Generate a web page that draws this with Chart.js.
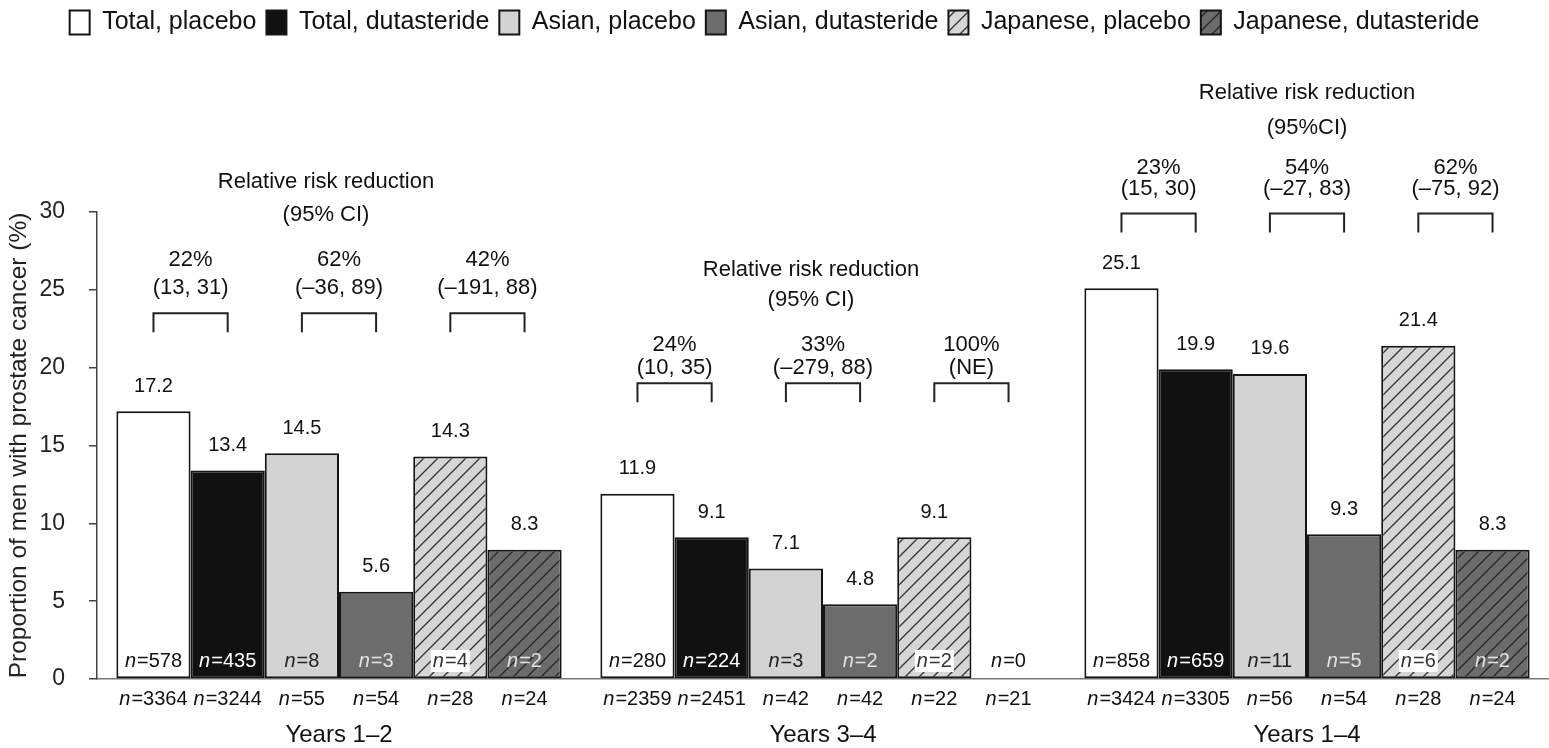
<!DOCTYPE html>
<html>
<head>
<meta charset="utf-8">
<script src="https://cdn.jsdelivr.net/npm/chart.js@4.4.1/dist/chart.umd.min.js"></script>
<style>
  html, body { margin: 0; padding: 0; background: #fff; }
</style>
</head>
<body>
<canvas id="bar-chart" width="1549" height="748"></canvas>
<script>
// ---- data ----
var periods = ['Years 1\u20132', 'Years 3\u20134', 'Years 1\u20134'];
var seriesNames = ['Total, placebo', 'Total, dutasteride', 'Asian, placebo',
                   'Asian, dutasteride', 'Japanese, placebo', 'Japanese, dutasteride'];

var totalPlacebo        = [17.2, 11.9, 25.1];
var totalDutasteride    = [13.4,  9.1, 19.9];
var asianPlacebo        = [14.5,  7.1, 19.6];
var asianDutasteride    = [ 5.6,  4.8,  9.3];
var japanesePlacebo     = [14.3,  9.1, 21.4];
var japaneseDutasteride = [ 8.3,  0,    8.3];

// men with cancer (inside the bars), one list per series
var casesN = [
    [578, 280, 858],
    [435, 224, 659],
    [8, 3, 11],
    [3, 2, 5],
    [4, 2, 6],
    [2, 0, 2]
];
// men at risk (under the axis)
var menN = [
    [3364, 2359, 3424],
    [3244, 2451, 3305],
    [55, 42, 56],
    [54, 42, 54],
    [28, 22, 28],
    [24, 21, 24]
];

var rrrTitle = ['Relative risk reduction', 'Relative risk reduction', 'Relative risk reduction'];
var rrrSub   = ['(95% CI)', '(95% CI)', '(95%CI)'];
var rrrValue = [['22%', '62%', '42%'], ['24%', '33%', '100%'], ['23%', '54%', '62%']];
var rrrCI    = [['(13, 31)', '(\u201336, 89)', '(\u2013191, 88)'],
                ['(10, 35)', '(\u2013279, 88)', '(NE)'],
                ['(15, 30)', '(\u201327, 83)', '(\u201375, 92)']];

var yTicks = [0, 5, 10, 15, 20, 25, 30];

// ---- layout of the annotations (not data) ----
var bracketLevel = [23.5, 19.0, 29.9];          // on the y scale
var textOffsets = [                               // px above the bracket: title, sub, value, ci
    [131, 98, 53, 25],
    [113, 83, 38, 15],
    [121, 86, 46, 25]
];
var headerShift = [-13, -12, 0];

var FONT = "'Liberation Sans', Arial, sans-serif";
var INK = '#111';

function hatch(bg, line) {
    var c = document.createElement('canvas');
    c.width = 14; c.height = 14;
    var g = c.getContext('2d');
    g.fillStyle = bg;
    g.fillRect(0, 0, 14, 14);
    g.strokeStyle = line;
    g.lineWidth = 1.3;
    g.beginPath();
    g.moveTo(0, 14); g.lineTo(14, 0);
    g.moveTo(-7, 7); g.lineTo(7, -7);
    g.moveTo(7, 21); g.lineTo(21, 7);
    g.stroke();
    return g.createPattern(c, 'repeat');
}

var fills = ['#ffffff', '#111111', '#d3d3d3', '#6c6c6c',
             hatch('#d6d6d6', '#333333'), hatch('#6c6c6c', '#262626')];
var innerInk = ['#111', '#fff', '#222', '#e2e2e2', '#333', '#e2e2e2'];
var innerBg  = [null, null, null, null, '#ffffff', null];

function drawN(ctx, value, x, y, color, bg) {
    var italic = 'italic 20px ' + FONT, plain = '20px ' + FONT;
    ctx.font = italic;
    var w1 = ctx.measureText('n').width;
    ctx.font = plain;
    var rest = '=' + value;
    var w2 = ctx.measureText(rest).width;
    var total = w1 + w2 + 1;
    var left = x - total / 2;
    if (bg) {
        ctx.fillStyle = bg;
        ctx.fillRect(left - 2, y - 11, total + 4, 22);
    }
    ctx.fillStyle = color;
    ctx.textAlign = 'left';
    ctx.textBaseline = 'middle';
    ctx.font = italic;
    ctx.fillText('n', left, y);
    ctx.font = plain;
    ctx.fillText(rest, left + w1 + 1, y);
}

// legend sits at the top, the plot starts lower down
var legendSpace = {
    id: 'legendSpace',
    beforeInit: function(chart) {
        var fit = chart.legend.fit;
        chart.legend.fit = function() {
            fit.bind(chart.legend)();
            this.height = 212;
        };
    }
};

var annotations = {
    id: 'annotations',
    afterDatasetsDraw: function(chart) {
        var ctx = chart.ctx;
        var area = chart.chartArea;
        var yScale = chart.scales.y;
        var xScale = chart.scales.x;
        ctx.save();

        chart.data.datasets.forEach(function(ds, i) {
            var meta = chart.getDatasetMeta(i);
            meta.data.forEach(function(bar, j) {
                var v = ds.data[j];
                if (v > 0) {
                    ctx.font = '20px ' + FONT;
                    ctx.fillStyle = INK;
                    ctx.textAlign = 'center';
                    ctx.textBaseline = 'middle';
                    ctx.fillText(v.toFixed(1), bar.x, bar.y - 25);
                    drawN(ctx, casesN[i][j], bar.x, area.bottom - 18, innerInk[i], innerBg[i]);
                } else {
                    drawN(ctx, casesN[i][j], bar.x, area.bottom - 18, INK, null);
                }
                drawN(ctx, menN[i][j], bar.x, area.bottom + 20, INK, null);
            });
        });

        // relative risk reduction brackets and texts
        ctx.strokeStyle = '#222';
        ctx.lineWidth = 2;
        periods.forEach(function(p, j) {
            var top = yScale.getPixelForValue(bracketLevel[j]);
            var off = textOffsets[j];
            var cx = xScale.getPixelForValue(j) + headerShift[j];
            ctx.font = '22px ' + FONT;
            ctx.fillStyle = INK;
            ctx.textAlign = 'center';
            ctx.textBaseline = 'middle';
            ctx.fillText(rrrTitle[j], cx, top - off[0]);
            ctx.fillText(rrrSub[j], cx, top - off[1]);
            for (var k = 0; k < 3; k++) {
                var x1 = chart.getDatasetMeta(2 * k).data[j].x;
                var x2 = chart.getDatasetMeta(2 * k + 1).data[j].x;
                ctx.beginPath();
                ctx.moveTo(x1, top + 19);
                ctx.lineTo(x1, top);
                ctx.lineTo(x2, top);
                ctx.lineTo(x2, top + 19);
                ctx.stroke();
                ctx.fillText(rrrValue[j][k], (x1 + x2) / 2, top - off[2]);
                ctx.fillText(rrrCI[j][k], (x1 + x2) / 2, top - off[3]);
            }
        });
        ctx.restore();
    }
};

document.addEventListener('DOMContentLoaded', function() {
    Chart.defaults.font.family = FONT;
    Chart.defaults.color = INK;

    var values = [totalPlacebo, totalDutasteride, asianPlacebo,
                  asianDutasteride, japanesePlacebo, japaneseDutasteride];

    var ctx = document.getElementById('bar-chart').getContext('2d');
    var myChart = new Chart(ctx, {
        type: 'bar',
        data: {
            labels: periods,
            datasets: values.map(function(v, i) {
                return {
                    label: seriesNames[i],
                    data: v,
                    backgroundColor: fills[i],
                    borderColor: '#151515',
                    borderWidth: function(c) { return c.raw === 0 ? 0 : 2; },
                    borderSkipped: false,
                    categoryPercentage: 0.92,
                    barPercentage: 1.0
                };
            })
        },
        options: {
            responsive: false,
            animation: false,
            layout: { padding: 0 },
            plugins: {
                legend: {
                    display: true,
                    position: 'top',
                    align: 'center',
                    labels: {
                        color: INK,
                        font: { size: 25 },
                        boxWidth: 20,
                        boxHeight: 24,
                        padding: 10
                    }
                },
                tooltip: { enabled: false }
            },
            scales: {
                x: {
                    grid: { display: false },
                    border: { display: true, color: '#777', width: 1.5 },
                    ticks: { font: { size: 24 }, color: INK, padding: 34 },
                    afterFit: function(scale) { scale.height = 69; }
                },
                y: {
                    min: 0,
                    max: 30,
                    afterBuildTicks: function(scale) {
                        scale.ticks = yTicks.map(function(v) { return { value: v }; });
                    },
                    grid: {
                        display: true,
                        drawOnChartArea: false,
                        drawTicks: true,
                        tickLength: 8,
                        color: '#444',
                        lineWidth: 1.5
                    },
                    border: { display: true, color: '#444', width: 1.5 },
                    ticks: { font: { size: 23 }, color: '#222', padding: 24 },
                    title: {
                        display: true,
                        text: 'Proportion of men with prostate cancer (%)',
                        font: { size: 24.5 },
                        color: '#222',
                        padding: { top: 5, bottom: 0 }
                    },
                    afterFit: function(scale) { scale.width = 97; }
                }
            }
        },
        plugins: [legendSpace, annotations]
    });
});
</script>
</body>
</html>
